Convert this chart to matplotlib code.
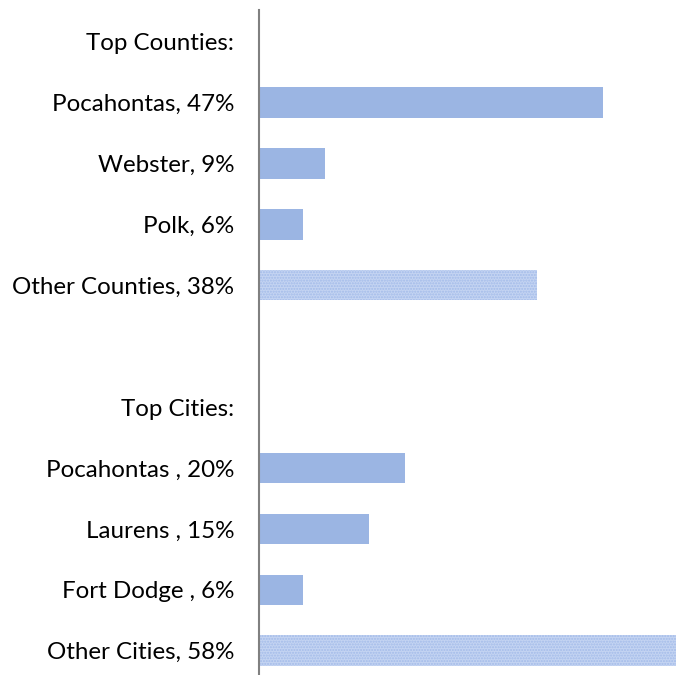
import matplotlib
matplotlib.use("Agg")
import matplotlib.pyplot as plt

# rows from top to bottom; None = no bar (header / spacer)
labels = ["Top Counties:", "Pocahontas, 47%", "Webster, 9%", "Polk, 6%",
          "Other Counties, 38%", "", "Top Cities:", "Pocahontas , 20%",
          "Laurens , 15%", "Fort Dodge , 6%", "Other Cities, 58%"]
values = [None, 47, 9, 6, 38, None, None, 20, 15, 6, 58]
is_other = [False, False, False, False, True, False, False, False, False, False, True]

solid_color = "#9BB5E3"
other_face = "#C4D4F2"
other_hatch = "#A3BBE9"

plt.rcParams["font.family"] = ["Lato", "DejaVu Sans"]
plt.rcParams["hatch.linewidth"] = 1.0

fig = plt.figure(figsize=(6.76, 6.75), dpi=100)
ax = fig.add_axes([259 / 676, 0.0, 1 - 259 / 676, 1 - 10 / 675])

for i, (v, other) in enumerate(zip(values, is_other)):
    if v is None:
        continue
    if other:
        ax.barh(i, v, height=0.5, color=other_face, hatch="......",
                edgecolor=other_hatch, linewidth=0)
    else:
        ax.barh(i, v, height=0.5, color=solid_color, linewidth=0)

ax.set_xlim(0, 57)
ax.set_ylim(10.4, -0.52)
ax.set_yticks(range(len(labels)))
ax.set_yticklabels(labels, fontsize=17.4)
ax.tick_params(axis="y", length=0, pad=18)
ax.set_xticks([])
for s in ["top", "right", "bottom"]:
    ax.spines[s].set_visible(False)
ax.spines["left"].set_color("#808080")
ax.spines["left"].set_linewidth(1.5)

fig.savefig("out.png", dpi=100)
